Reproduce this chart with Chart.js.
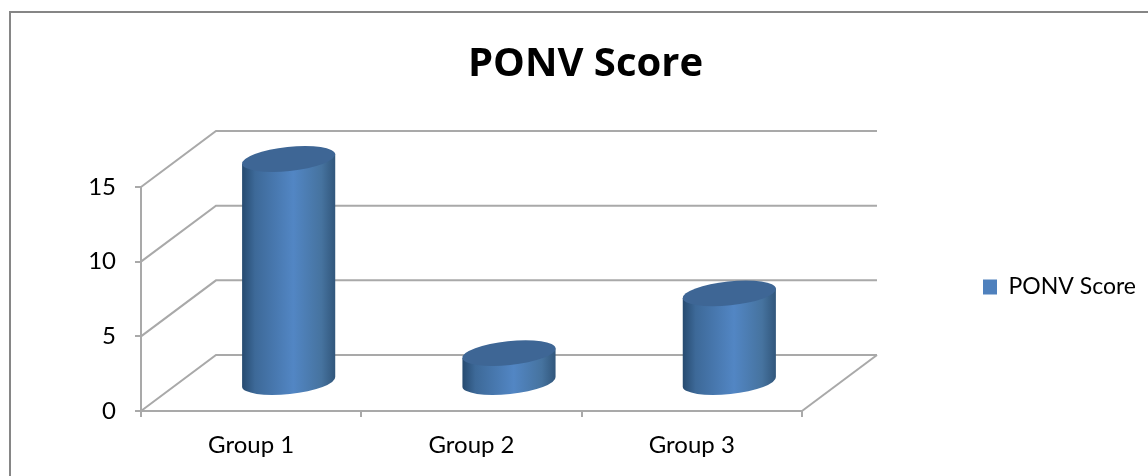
<!DOCTYPE html>
<html>
<head>
<meta charset="utf-8">
<title>PONV Score</title>
<script src="https://cdn.jsdelivr.net/npm/chart.js@4/dist/chart.umd.min.js"></script>
<style>
  body { margin: 0; background: #fff; }
  canvas { display: block; }
</style>
</head>
<body>
<canvas id="ponv-chart" width="1148" height="476"></canvas>
<script>
const categories = ['Group 1', 'Group 2', 'Group 3'];
const scores = [15, 2, 6];
const yTicks = [0, 5, 10, 15];

const FONT = 'Lato, "Open Sans", sans-serif';
const GRID = '#a9a9a9';
// depth of the fake 3d box
const DX = 75, DY = 56;

const threeD = {
  id: 'threeD',
  afterLayout(chart) {
    // legend and title sit off-centre in the original
    const lg = chart.legend;
    const w = lg.width, h = lg.height;
    lg.left = 973; lg.right = lg.left + w;
    lg.top = 287 - h / 2; lg.bottom = lg.top + h;
    chart.titleBlock.left += 98;
    chart.titleBlock.right += 98;
  },
  beforeDraw(chart) {
    const ctx = chart.ctx;
    ctx.save();
    ctx.fillStyle = '#fff';
    ctx.fillRect(0, 0, chart.width, chart.height);
    ctx.strokeStyle = '#868686';
    ctx.lineWidth = 2;
    ctx.beginPath();
    ctx.moveTo(10, 476);
    ctx.lineTo(10, 12);
    ctx.lineTo(1148, 12);
    ctx.stroke();
    ctx.restore();
  },
  beforeDatasetsDraw(chart) {
    const ctx = chart.ctx;
    const xs = chart.scales.x, ys = chart.scales.y;
    const x0 = xs.left, x1 = xs.right;
    ctx.save();
    ctx.strokeStyle = GRID;
    ctx.lineWidth = 2;
    yTicks.forEach(v => {
      const y = ys.getPixelForValue(v);
      ctx.beginPath();
      ctx.moveTo(x0, y);
      ctx.lineTo(x0 + DX, y - DY);
      ctx.lineTo(x1 + DX, y - DY);
      ctx.stroke();
    });
    const yb = ys.getPixelForValue(0);
    ctx.beginPath();
    ctx.moveTo(x1, yb);
    ctx.lineTo(x1 + DX, yb - DY);
    ctx.stroke();

    // cylinders, placed from the bar elements
    chart.getDatasetMeta(0).data.forEach(bar => {
      const cx = bar.x + DX / 2;
      const rx = bar.width / 2, ry = 12, rot = -6 * Math.PI / 180;
      const topY = bar.y - DY / 2, baseY = bar.base - DY / 2;
      const tilt = rx * Math.sin(rot);
      const grad = ctx.createLinearGradient(cx - rx, 0, cx + rx, 0);
      grad.addColorStop(0, '#264a6f');
      grad.addColorStop(0.14, '#3d6998');
      grad.addColorStop(0.55, '#5286c4');
      grad.addColorStop(0.85, '#46739f');
      grad.addColorStop(1, '#31567b');
      ctx.beginPath();
      ctx.moveTo(cx - rx * Math.cos(rot), topY - tilt);
      ctx.lineTo(cx + rx * Math.cos(rot), topY + tilt);
      ctx.lineTo(cx + rx * Math.cos(rot), baseY + tilt);
      ctx.ellipse(cx, baseY, rx, ry, rot, 0, Math.PI);
      ctx.closePath();
      ctx.fillStyle = grad;
      ctx.fill();
      ctx.beginPath();
      ctx.ellipse(cx, topY, rx, ry, rot, 0, Math.PI * 2);
      ctx.fillStyle = '#3e6695';
      ctx.fill();
    });
    ctx.restore();
    return false;
  }
};

new Chart(document.getElementById('ponv-chart'), {
  type: 'bar',
  data: {
    labels: categories,
    datasets: [{
      label: 'PONV Score',
      data: scores,
      backgroundColor: '#4f81bd',
      categoryPercentage: 1,
      barPercentage: 0.425
    }]
  },
  options: {
    responsive: false,
    animation: false,
    layout: { padding: { right: 173 } },
    plugins: {
      tooltip: { enabled: false },
      title: {
        display: true,
        text: 'PONV Score',
        color: '#000',
        font: { family: '"Open Sans", sans-serif', size: 40, weight: 'bold' },
        padding: { top: 41, bottom: 98 }
      },
      legend: {
        position: 'right',
        labels: {
          color: '#000',
          font: { family: FONT, size: 23 },
          boxWidth: 14,
          boxHeight: 15
        }
      }
    },
    scales: {
      x: {
        afterFit(s) { s.height = 65; },
        grid: { drawOnChartArea: false, color: GRID, tickLength: 6, lineWidth: 2 },
        border: { color: GRID, width: 2 },
        ticks: { color: '#000', padding: 14, font: { family: FONT, size: 24 } }
      },
      y: {
        min: 0,
        max: 15,
        afterFit(s) { s.width = 141; },
        afterBuildTicks(s) { s.ticks = yTicks.map(v => ({ value: v })); },
        grid: { drawOnChartArea: false, color: GRID, tickLength: 6, lineWidth: 2 },
        border: { color: GRID, width: 2 },
        ticks: { color: '#000', padding: 19, font: { family: FONT, size: 24 } }
      }
    }
  },
  plugins: [threeD]
});
</script>
</body>
</html>
